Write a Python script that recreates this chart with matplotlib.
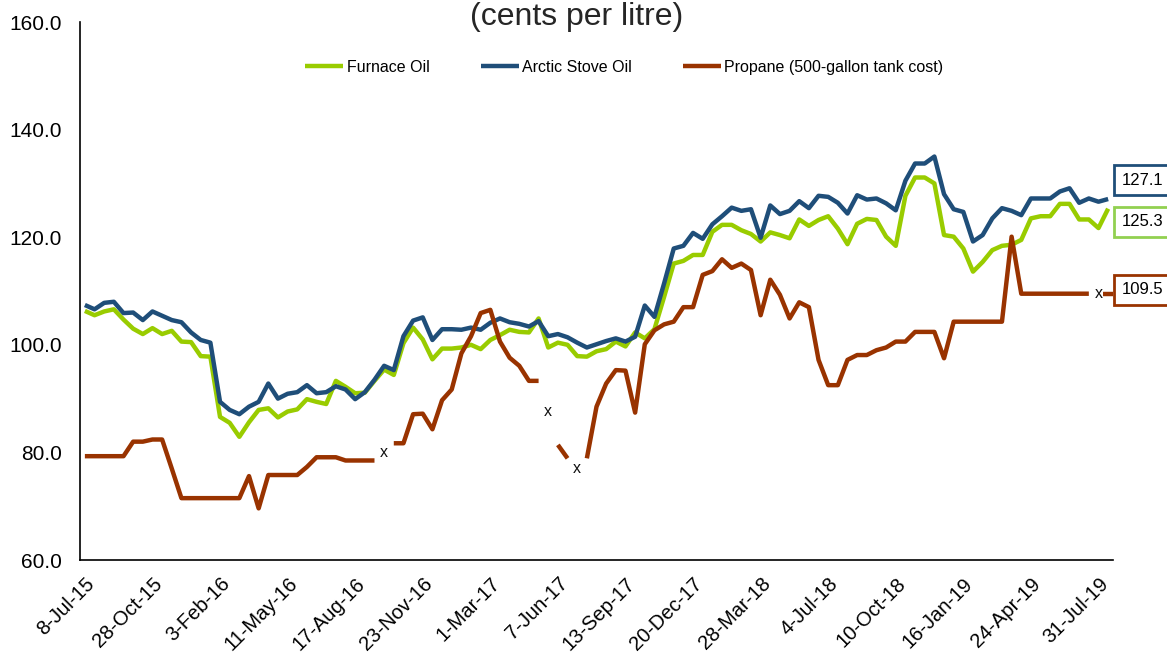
import numpy as np
import matplotlib
matplotlib.use('Agg')
import matplotlib.pyplot as plt

plt.rcParams['font.family'] = ['Liberation Sans', 'DejaVu Sans']

# tick labels (every 7th category)
date_labels = ['8-Jul-15', '28-Oct-15', '3-Feb-16', '11-May-16', '17-Aug-16', '23-Nov-16',
               '1-Mar-17', '7-Jun-17', '13-Sep-17', '20-Dec-17', '28-Mar-18', '4-Jul-18',
               '10-Oct-18', '16-Jan-19', '24-Apr-19', '31-Jul-19']

furnace_oil = [106.3, 105.5, 106.2, 106.6, 104.7, 103.0, 102.0, 103.1, 102.0, 102.6,
               100.6, 100.5, 97.9, 97.8, 86.6, 85.5, 82.9, 85.6, 87.9, 88.2,
               86.5, 87.6, 88.0, 89.9, 89.4, 89.0, 93.3, 92.2, 91.0, 91.1,
               93.3, 95.4, 94.4, 100.3, 103.2, 101.0, 97.3, 99.3, 99.3, 99.5,
               100.0, 99.2, 100.9, 101.8, 102.8, 102.4, 102.3, 104.9, 99.5, 100.4,
               100.0, 97.9, 97.8, 98.8, 99.2, 100.6, 99.7, 102.3, 101.2, 102.9,
               108.9, 115.1, 115.6, 116.7, 116.7, 121.0, 122.3, 122.3, 121.3, 120.6,
               119.2, 120.9, 120.4, 119.8, 123.3, 122.1, 123.2, 123.9, 121.6, 118.7,
               122.5, 123.4, 123.2, 120.1, 118.4, 127.7, 131.1, 131.1, 130.0, 120.4,
               120.1, 117.9, 113.6, 115.4, 117.6, 118.4, 118.6, 119.5, 123.5, 123.9,
               123.9, 126.2, 126.2, 123.3, 123.3, 121.7, 125.3]

arctic_stove_oil = [107.4, 106.6, 107.8, 108.0, 105.9, 106.0, 104.6, 106.2, 105.4, 104.6,
                    104.2, 102.3, 100.9, 100.4, 89.4, 87.9, 87.1, 88.5, 89.4, 92.8,
                    90.0, 90.9, 91.2, 92.5, 91.0, 91.2, 92.3, 91.7, 89.9, 91.2,
                    93.5, 96.1, 95.3, 101.6, 104.5, 105.1, 100.9, 102.9, 102.9, 102.8,
                    103.2, 102.8, 104.1, 104.9, 104.2, 103.9, 103.4, 104.4, 101.6, 102.0,
                    101.4, 100.4, 99.5, 100.1, 100.7, 101.2, 100.6, 101.5, 107.3, 105.2,
                    111.4, 117.9, 118.4, 120.8, 119.7, 122.4, 123.9, 125.5, 124.9, 125.2,
                    119.9, 125.9, 124.3, 124.9, 126.7, 125.4, 127.7, 127.5, 126.4, 124.4,
                    127.8, 127.0, 127.2, 126.3, 125.0, 130.5, 133.7, 133.7, 135.0, 128.0,
                    125.2, 124.7, 119.2, 120.4, 123.5, 125.4, 124.9, 124.1, 127.2, 127.2,
                    127.2, 128.5, 129.1, 126.4, 127.2, 126.6, 127.1]

nan = np.nan
propane = [79.3, 79.3, 79.3, 79.3, 79.3, 82.0, 82.0, 82.4, 82.4, 77.0,
           71.5, 71.5, 71.5, 71.5, 71.5, 71.5, 71.5, 75.6, 69.6, 75.8,
           75.8, 75.8, 75.8, 77.3, 79.1, 79.1, 79.1, 78.5, 78.5, 78.5,
           78.5, nan, 81.7, 81.7, 87.1, 87.2, 84.3, 89.7, 91.7, 98.4,
           101.6, 105.9, 106.5, 100.6, 97.6, 96.1, 93.3, 93.3, nan, 81.4,
           78.9, nan, 78.9, 88.5, 92.8, 95.3, 95.2, 87.4, 100.1, 102.7,
           103.8, 104.3, 107.0, 107.0, 113.0, 113.7, 115.9, 114.3, 115.1, 113.9,
           105.5, 112.1, 109.3, 104.9, 107.9, 107.0, 97.2, 92.5, 92.5, 97.2,
           98.1, 98.1, 99.0, 99.5, 100.6, 100.6, 102.4, 102.4, 102.4, 97.5,
           104.3, 104.3, 104.3, 104.3, 104.3, 104.3, 120.1, 109.5, 109.5, 109.5,
           109.5, 109.5, 109.5, 109.5, 109.5, nan, 109.5]

# suppressed ("x") values: category index and where the label sits
x_label_idx = [31, 48, 51, 105]
x_label_val = [80.0, 87.6, 77.0, 109.6]

GREEN = '#99CC00'
GREEN_BOX = '#92D050'
BLUE = '#1F4E79'
BROWN = '#993300'

x = np.arange(len(furnace_oil))

fig = plt.figure(figsize=(11.67, 6.59), dpi=100)
ax = fig.add_axes([0.0686, 0.1502, 0.8851, 0.8164])

ax.plot(x, furnace_oil, color=GREEN, lw=3.2, label='Furnace Oil', solid_capstyle='butt')
ax.plot(x, arctic_stove_oil, color=BLUE, lw=3.2, label='Arctic Stove Oil', solid_capstyle='butt')
ax.plot(x, propane, color=BROWN, lw=3.2, label='Propane (500-gallon tank cost)', solid_capstyle='butt')
# last propane point stands alone after a suppressed value
ax.plot(x[-1:], propane[-1:], color=BROWN, marker='_', ms=7, mew=3.2, ls='none')

for i, v in zip(x_label_idx, x_label_val):
    ax.text(i, v, 'x', ha='center', va='center', fontsize=11.5, color='#111111')

ax.set_xlim(-0.5, len(x) - 0.5)
ax.set_ylim(60, 160)
ax.set_yticks(np.arange(60, 161, 20))
ax.set_yticklabels([f'{t:.1f}' for t in np.arange(60, 161, 20)])
ax.set_xticks(x[::7][:len(date_labels)])
ax.set_xticklabels(date_labels, rotation=45, ha='right', rotation_mode='anchor')
ax.tick_params(axis='both', length=0)
ax.tick_params(axis='y', pad=13, labelsize=15)
ax.tick_params(axis='x', pad=10, labelsize=14.5)

for side in ['top', 'right']:
    ax.spines[side].set_visible(False)
for side in ['left', 'bottom']:
    ax.spines[side].set_linewidth(1.2)
    ax.spines[side].set_color('black')

# end-of-series value boxes
end_labels = [(arctic_stove_oil[-1], BLUE, 19), (furnace_oil[-1], GREEN_BOX, -13),
              (propane[-1], BROWN, 4)]
for val, col, dy in end_labels:
    ax.annotate(f'{val:.1f}', xy=(x[-1], val), xytext=(34, dy), textcoords='offset pixels',
                ha='center', va='center', fontsize=12, annotation_clip=False,
                bbox=dict(boxstyle='square,pad=0.45', fc='white', ec=col, lw=2))

fig.text(0.4944, 0.962, '(cents per litre)', ha='center', va='baseline',
         fontsize=23, color='#262626')

fig.legend(loc='center', bbox_to_anchor=(0.535, 0.898), ncol=3, frameon=False,
           fontsize=11.5, handlelength=2.4, handletextpad=0.2, columnspacing=3.2)

fig.savefig('out.png', dpi=100)
